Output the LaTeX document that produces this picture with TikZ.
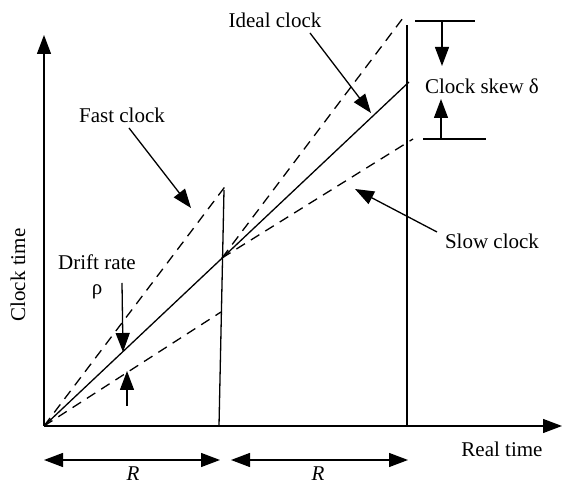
\documentclass[tikz,border=0pt]{standalone}
\usepackage{fontspec}
\setmainfont{Liberation Serif}
\usetikzlibrary{arrows.meta}
\begin{document}
\begin{tikzpicture}[x=0.5pt,y=-0.5pt,
  ln/.style={line width=0.65pt},
  dsh/.style={line width=0.65pt,dash pattern=on 5pt off 3.5pt},
  arr/.style={line width=0.65pt,-{Triangle[length=9.5pt,width=7pt]}},
  darr/.style={line width=0.65pt,{Triangle[length=9.5pt,width=7pt]}-{Triangle[length=9.5pt,width=7pt]}},
  lbl/.style={font=\fontsize{10.5}{12}\selectfont,inner sep=0pt}]
\useasboundingbox (0,0) rectangle (563,485);
% points
\coordinate (O) at (44,426);
\coordinate (ytip) at (44,35);
\coordinate (xtip) at (562,426);
\coordinate (v1b) at (219,426);
\coordinate (v1t) at (224,190);
\coordinate (v2b) at (407,426);
\coordinate (v2t) at (407,25);
\coordinate (S) at (222,258);
\coordinate (idealEnd) at (409,82);
\coordinate (fast1) at (227,184);
\coordinate (slow1) at (221,312);
\coordinate (fast2) at (403,18);
\coordinate (slow2) at (413,139);
% axes
\draw[arr] (O) -- (ytip);
\draw[arr] (O) -- (xtip);
\draw[ln] (v1b) -- (v1t);
\draw[ln] (v2b) -- (v2t);
% clocks
\draw[ln] (O) -- (idealEnd);
\draw[dsh] (O) -- (fast1);
\draw[dsh] (O) -- (slow1);
\draw[dsh] (S) -- (fast2);
\draw[dsh] (S) -- (slow2);
% skew
\coordinate (sk1a) at (415,21);
\coordinate (sk1b) at (475,21);
\coordinate (sk2a) at (423,139);
\coordinate (sk2b) at (486,139);
\draw[ln] (sk1a) -- (sk1b);
\draw[ln] (sk2a) -- (sk2b);
\coordinate (d1s) at (442,21);
\coordinate (d1e) at (442,66);
\coordinate (d2s) at (441,139);
\coordinate (d2e) at (441,99);
\draw[arr] (d1s) -- (d1e);
\draw[arr] (d2s) -- (d2e);
\node[lbl] (skew) at (482,86) {Clock skew δ};
% labels
\node[lbl] (ideal) at (275,20) {Ideal clock};
\coordinate (ia) at (310,33);
\coordinate (it) at (371,113);
\draw[arr] (ia) -- (it);
\node[lbl] (fast) at (122,115) {Fast clock};
\coordinate (fa) at (129,128);
\coordinate (ft) at (191,208);
\draw[arr] (fa) -- (ft);
\node[lbl] (slow) at (492,241) {Slow clock};
\coordinate (sa) at (437,232);
\coordinate (st) at (355,189);
\draw[arr] (sa) -- (st);
\node[lbl] (drift) at (97,262) {Drift rate};
\node[lbl] (rho) at (97,292) {ρ};
\coordinate (r1s) at (122,283);
\coordinate (r1e) at (123,352);
\coordinate (r2s) at (127,406);
\coordinate (r2e) at (127,371);
\draw[arr] (r1s) -- (r1e);
\draw[arr] (r2s) -- (r2e);
\node[lbl,rotate=90] (ct) at (18,275) {Clock time};
\node[lbl] (rt) at (502,449) {Real time};
% R intervals
\coordinate (R1a) at (44,460);
\coordinate (R1b) at (220,460);
\coordinate (R2a) at (231,460);
\coordinate (R2b) at (408,460);
\draw[darr] (R1a) -- (R1b);
\draw[darr] (R2a) -- (R2b);
\node[lbl] (Rl1) at (133,474) {\textit{R}};
\node[lbl] (Rl2) at (318,474) {\textit{R}};
\end{tikzpicture}
\end{document}
